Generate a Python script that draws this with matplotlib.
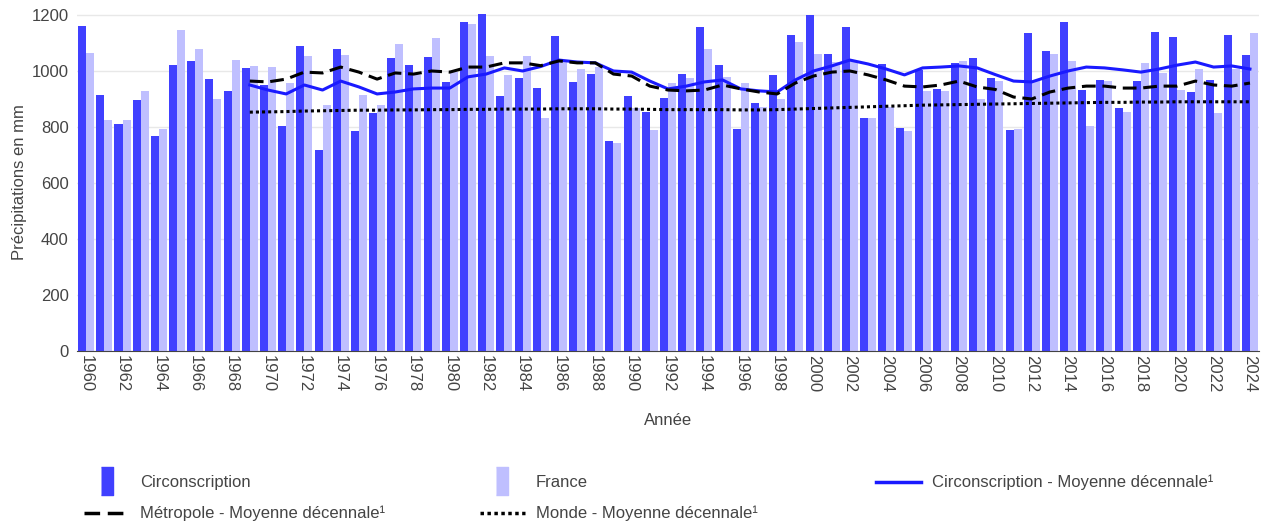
import matplotlib
matplotlib.use("Agg")
import matplotlib.pyplot as plt
import numpy as np
from matplotlib.lines import Line2D

plt.rcParams['font.family'] = ['Liberation Sans', 'DejaVu Sans']

years = np.arange(1960, 2025)
avg_years = np.arange(1969, 2025)

# précipitations annuelles (mm)
circ = [1161, 914, 811, 896, 768, 1021, 1036, 971, 929, 1011,
        950, 804, 1089, 718, 1079, 786, 850, 1046, 1021, 1050,
        961, 1175, 1204, 911, 975, 939, 1125, 961, 989, 750,
        911, 854, 904, 989, 1157, 1021, 793, 886, 986, 1129,
        1200, 1061, 1157, 832, 1025, 796, 1004, 936, 1029, 1046,
        975, 789, 1136, 1071, 1175, 932, 968, 868, 964, 1139,
        1121, 925, 968, 1129, 1057]
france = [1064, 825, 825, 929, 793, 1146, 1079, 900, 1039, 1018,
          1014, 957, 1054, 879, 1057, 914, 879, 1096, 986, 1118,
          996, 1168, 1054, 986, 1054, 832, 1032, 1007, 1014, 743,
          868, 789, 957, 975, 1079, 979, 957, 871, 900, 1104,
          1061, 1032, 1036, 832, 871, 786, 929, 929, 1036, 900,
          964, 793, 965, 1061, 1036, 804, 964, 854, 1029, 993,
          932, 1007, 850, 1007, 1136]

# moyennes décennales (1969-2024)
circ_avg = [950, 932, 918, 950, 932, 964, 943, 918, 925, 936, 939,
            939, 979, 989, 1011, 1000, 1016, 1039, 1032, 1029, 1000,
            996, 964, 936, 946, 961, 968, 936, 929, 925, 968,
            1000, 1018, 1039, 1025, 1007, 986, 1011, 1014, 1018, 1011,
            987, 964, 961, 982, 1000, 1014, 1011, 1004, 996, 1007,
            1021, 1032, 1014, 1018, 1007]
metro_avg = [964, 961, 971, 996, 993, 1014, 996, 971, 993, 989, 1000,
             996, 1014, 1014, 1029, 1029, 1019, 1036, 1029, 1029, 989,
             982, 946, 932, 929, 932, 950, 936, 925, 918, 957,
             982, 996, 1000, 986, 968, 946, 943, 950, 964, 943,
             934, 907, 900, 925, 939, 946, 946, 939, 939, 946,
             946, 964, 950, 946, 957]
monde_avg = [853, 854, 855, 857, 858, 859, 860, 860, 861, 861, 862,
             862, 863, 863, 864, 864, 864, 865, 865, 865, 864,
             864, 863, 862, 862, 862, 862, 861, 861, 862, 864,
             866, 868, 870, 872, 874, 876, 878, 879, 880, 881,
             882, 883, 884, 885, 886, 887, 888, 888, 889, 889,
             890, 890, 890, 890, 890]

c_dark = '#4040ff'
c_light = '#bfbfff'
c_line = '#1a1aff'
txt = '#444444'

fig = plt.figure(figsize=(12.65, 5.25), dpi=100)
ax = fig.add_axes([0.0609, 0.3314, 0.9344, 0.6454])

w = 0.44
ax.bar(years - w / 2, circ, w, color=c_dark, zorder=2)
ax.bar(years + w / 2, france, w, color=c_light, zorder=2)
ax.plot(avg_years, circ_avg, color=c_line, lw=2.2, zorder=3)
ax.plot(avg_years, metro_avg, color='black', lw=2.2, linestyle=(0, (4.5, 2.2)), zorder=3)
ax.plot(avg_years, monde_avg, color='black', lw=2.2, linestyle=(0, (1, 1)), zorder=3)

ax.set_xlim(1959.5, 2024.5)
ax.set_ylim(0, 1210)
ax.set_yticks(range(0, 1201, 200))
ax.set_xticks(years[::2])
ax.set_xticklabels([str(y) for y in years[::2]], rotation=-90)
ax.tick_params(axis='both', length=0, labelsize=12, colors=txt)
ax.tick_params(axis='x', pad=3)
ax.tick_params(axis='y', pad=6)
ax.grid(axis='y', color='#e8e8e8', lw=1, zorder=0)
for s in ['top', 'right', 'left']:
    ax.spines[s].set_visible(False)
ax.spines['bottom'].set_color(txt)
ax.spines['bottom'].set_zorder(4)

ax.set_ylabel('Précipitations en mm', fontsize=12, color=txt, labelpad=3)
ax.set_xlabel('Année', fontsize=12, color=txt, labelpad=15)

rect = [(-0.45, -1), (0.45, -1), (0.45, 1), (-0.45, 1)]
h_circ = Line2D([], [], marker=rect, markersize=20, color=c_dark, linestyle='none')
h_fr = Line2D([], [], marker=rect, markersize=20, color=c_light, linestyle='none')
h_cavg = Line2D([], [], color=c_line, lw=2.5)
h_met = Line2D([], [], color='black', lw=2.5, linestyle=(0, (4.5, 2.2)))
h_mon = Line2D([], [], color='black', lw=2.5, linestyle=(0, (1, 1)))

sup = '¹'
cols = [
    ([h_circ, h_met], ['Circonscription', 'Métropole - Moyenne décennale' + sup], 84),
    ([h_fr, h_mon], ['France', 'Monde - Moyenne décennale' + sup], 480),
    ([h_cavg], ['Circonscription - Moyenne décennale' + sup], 876),
]
for handles, labels, xpx in cols:
    leg = fig.legend(handles, labels, loc='upper left',
                     bbox_to_anchor=(xpx / 1265, 1 - 475 / 525),
                     frameon=False, fontsize=12, handlelength=2.7,
                     handletextpad=0.66, labelspacing=0.95,
                     borderpad=0, borderaxespad=0, labelcolor=txt)

fig.savefig('out.png', dpi=100)
